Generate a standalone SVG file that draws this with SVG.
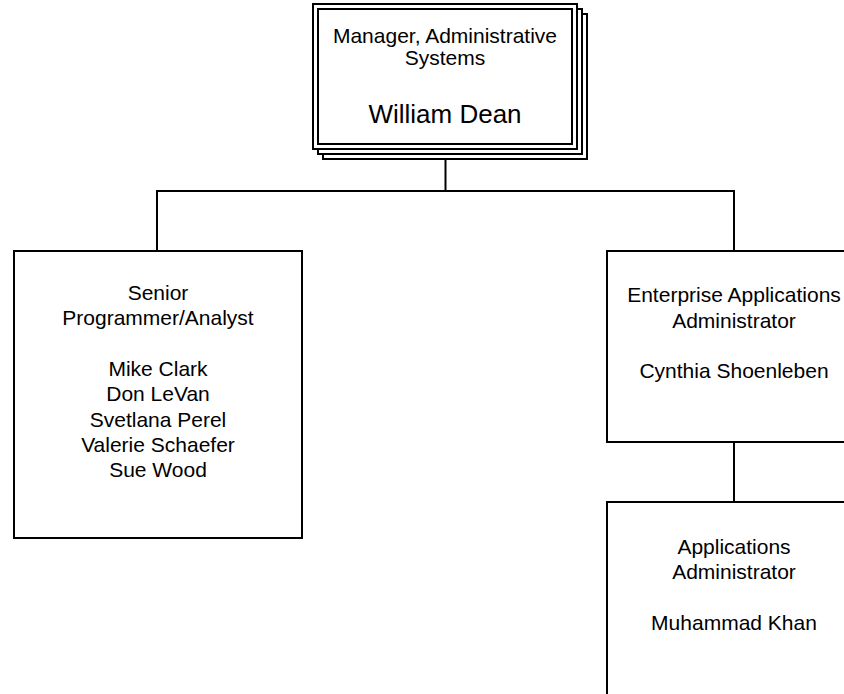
<svg xmlns="http://www.w3.org/2000/svg" width="844" height="694" viewBox="0 0 844 694">
<style>
.box{fill:#fff;stroke:#000;stroke-width:2}
.ln{fill:none;stroke:#000;stroke-width:2}
text{font-family:"Liberation Sans",Arial,sans-serif;font-size:21px;fill:#000;text-anchor:middle}
.big{font-size:26px}
</style>
<rect width="844" height="694" fill="#fff"/>
<g id="connectors">
<path class="ln" d="M445.5 149V191M157 191H734M157 190V251M734 190V251M734 442V502"/>
</g>
<g id="manager">
<rect class="box" x="323" y="14" width="264" height="145"/>
<rect class="box" x="318" y="9" width="264" height="145"/>
<rect class="box" x="313" y="4" width="264" height="145"/>
<rect class="box" x="318" y="9" width="254" height="135"/>
<text x="445" y="42.7">Manager, Administrative</text>
<text x="445" y="65.3">Systems</text>
<text class="big" x="445" y="123.3">William Dean</text>
</g>
<g id="senior">
<rect class="box" x="14" y="251" width="288" height="287"/>
<text x="158" y="299.5">Senior</text>
<text x="158" y="324.9">Programmer/Analyst</text>
<text x="158" y="375.7">Mike Clark</text>
<text x="158" y="401.1">Don LeVan</text>
<text x="158" y="426.5">Svetlana Perel</text>
<text x="158" y="451.9">Valerie Schaefer</text>
<text x="158" y="477.3">Sue Wood</text>
</g>
<g id="enterprise">
<rect class="box" x="607" y="251" width="254" height="191"/>
<text x="734" y="302.3">Enterprise Applications</text>
<text x="734" y="327.5">Administrator</text>
<text x="734" y="378.3">Cynthia Shoenleben</text>
</g>
<g id="applications">
<rect class="box" x="607" y="502" width="254" height="260"/>
<text x="734" y="554">Applications</text>
<text x="734" y="579">Administrator</text>
<text x="734" y="630">Muhammad Khan</text>
</g>
</svg>
